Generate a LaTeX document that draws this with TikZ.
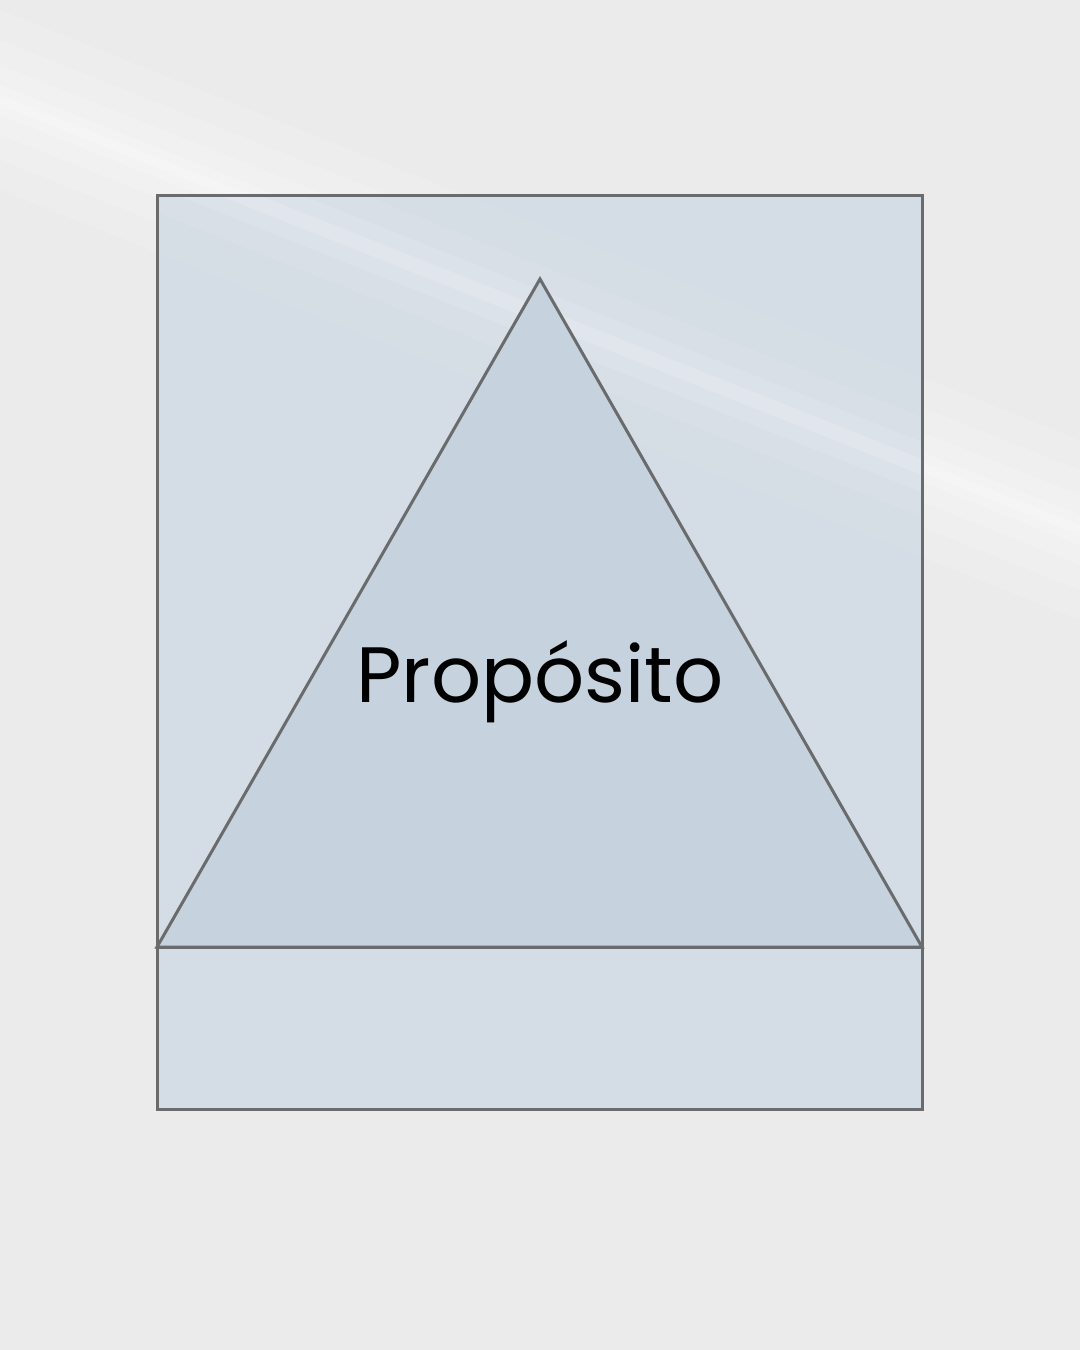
\documentclass[tikz,border=0pt]{standalone}
\usepackage{fontspec}
\setmainfont{Poppins}
\begin{document}
\begin{tikzpicture}[x=1pt,y=-1pt,
  frame/.style={draw=linegray, line width=3pt},
  label/.style={font=\fontsize{78.5}{90}\selectfont, text=black, inner sep=0pt, anchor=base}]
\definecolor{bggray}{HTML}{EBEBEB}
\definecolor{linegray}{HTML}{6A6B6D}
\definecolor{boxfill}{HTML}{D3DCE5}
\definecolor{trifill}{HTML}{C6D3DF}
\useasboundingbox (0,0) rectangle (1080,1350);
\fill[bggray] (0,0) rectangle (1080,1350);
% soft light streak
\foreach \w/\o in {90/0.10,60/0.12,35/0.15,15/0.2,5/0.2}{
  \fill[white, opacity=\o] (0,{100-\w}) -- (1080,{530-\w}) -- (1080,{530+\w}) -- (0,{100+\w}) -- cycle;
}
% box
\coordinate (tl) at (157,195);
\coordinate (br) at (922,1109);
\coordinate (bl) at (157,947);
\coordinate (brt) at (922,947);
\coordinate (apex) at (540,279);
\fill[boxfill, opacity=0.92] (tl) rectangle (br);
\begin{scope}
\clip (tl) rectangle (br);
\foreach \w/\o in {50/0.08,25/0.12,8/0.15}{
  \fill[white, opacity=\o] (0,{100-\w}) -- (1080,{530-\w}) -- (1080,{530+\w}) -- (0,{100+\w}) -- cycle;
}
\end{scope}
\filldraw[fill=trifill, draw=linegray, line width=3pt, line join=miter] (bl) -- (apex) -- (brt) -- cycle;
\draw[frame] (tl) rectangle (br);
\draw[frame] (bl) -- (brt);
\node[label] (t) at (540,702) {Propósito};
\end{tikzpicture}
\end{document}
